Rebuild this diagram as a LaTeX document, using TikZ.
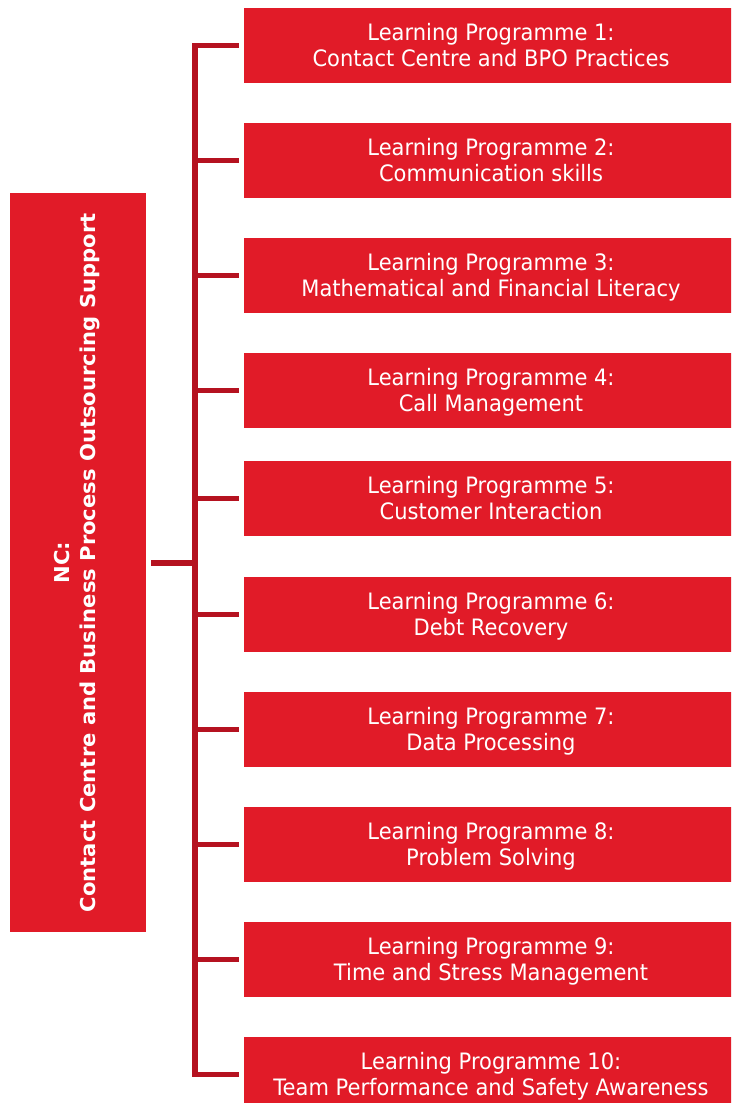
\documentclass[tikz,border=0pt]{standalone}
\usepackage{fontspec}
\newfontfamily\boxfont[FakeStretch=0.93]{DejaVu Sans}
\newfontfamily\ncfont[FakeStretch=1.03]{DejaVu Sans}
\definecolor{boxred}{RGB}{225,27,40}
\definecolor{linered}{RGB}{181,18,32}
\tikzset{
  progbox/.style={fill=boxred, draw=none, minimum width=494pt, minimum height=74.5pt,
    inner sep=0pt, text=white, align=center,
    font=\boxfont\fontsize{22.6}{26}\selectfont, text height=42.5pt, text depth=0pt},
  ncbox/.style={fill=boxred, draw=none, minimum width=135.5pt, minimum height=739pt, inner sep=0pt},
  nctext/.style={text=white, align=center, inner sep=0pt,
    font=\ncfont\bfseries\fontsize{20.5}{26}\selectfont, text height=40pt, text depth=5.5pt},
  conn/.style={draw=linered, line width=5.5pt, line join=miter}
}
\begin{document}
\begin{tikzpicture}[x=1pt,y=-1pt]
\useasboundingbox (0,0) rectangle (731,1103);
\clip (0,0) rectangle (731,1103);
\fill[white] (0,0) rectangle (731,1103);
\node[ncbox] (nc) at (77.75,562.8) {};
\node[nctext, rotate=90] (nct) at (nc.center) {NC:\\Contact Centre and Business Process Outsourcing Support};
\node[progbox] (b1) at (491,45.25) {Learning Programme 1:\\Contact Centre and BPO Practices};
\node[progbox] (b2) at (491,160.25) {Learning Programme 2:\\Communication skills};
\node[progbox] (b3) at (491,275.25) {Learning Programme 3:\\Mathematical and Financial Literacy};
\node[progbox] (b4) at (491,390.25) {Learning Programme 4:\\Call Management};
\node[progbox] (b5) at (491,498.25) {Learning Programme 5:\\Customer Interaction};
\node[progbox] (b6) at (491,614.25) {Learning Programme 6:\\Debt Recovery};
\node[progbox] (b7) at (491,729.25) {Learning Programme 7:\\Data Processing};
\node[progbox] (b8) at (491,844.25) {Learning Programme 8:\\Problem Solving};
\node[progbox] (b9) at (491,959.25) {Learning Programme 9:\\Time and Stress Management};
\node[progbox] (b10) at (491,1074.25) {Learning Programme 10:\\Team Performance and Safety Awareness};
\coordinate (barx) at (195,0);
\draw[conn] ([xshift=-5pt]b1.west) -- (b1.west -| barx) -- (b10.west -| barx) -- ([xshift=-5pt]b10.west);
\foreach \i in {2,...,9} {
  \draw[conn] (b\i.west -| barx) -- ([xshift=-5pt]b\i.west);
}
\draw[conn] ([xshift=5.5pt]nc.east) -- (nc.east -| barx);
\end{tikzpicture}
\end{document}
